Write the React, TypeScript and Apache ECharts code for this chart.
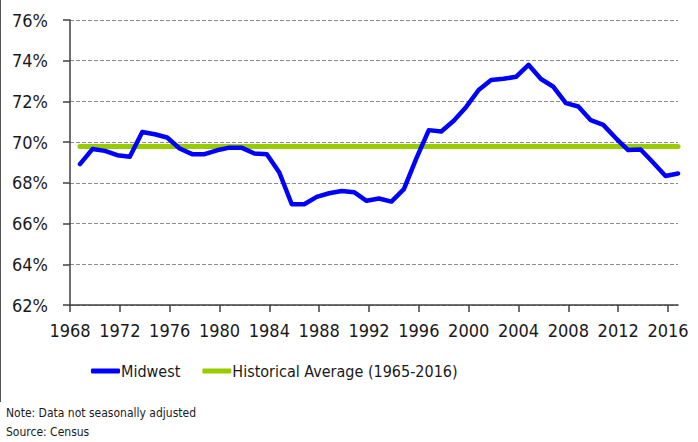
import React, { useEffect, useRef } from "react";
import * as echarts from "echarts";

const years: number[] = [
  1968, 1969, 1970, 1971, 1972, 1973, 1974, 1975, 1976, 1977, 1978, 1979,
  1980, 1981, 1982, 1983, 1984, 1985, 1986, 1987, 1988, 1989, 1990, 1991,
  1992, 1993, 1994, 1995, 1996, 1997, 1998, 1999, 2000, 2001, 2002, 2003,
  2004, 2005, 2006, 2007, 2008, 2009, 2010, 2011, 2012, 2013, 2014, 2015, 2016,
];

const midwest: number[] = [
  68.92, 69.66, 69.57, 69.36, 69.28, 70.5, 70.39, 70.23, 69.69, 69.41, 69.41, 69.6,
  69.73, 69.72, 69.44, 69.41, 68.51, 66.95, 66.95, 67.31, 67.49, 67.6, 67.54, 67.12,
  67.23, 67.08, 67.69, 69.2, 70.59, 70.52, 71.05, 71.73, 72.56, 73.05, 73.11, 73.21,
  73.8, 73.1, 72.72, 71.92, 71.75, 71.08, 70.85, 70.2, 69.61, 69.64, 69.0, 68.34, 68.46,
];

const historicalAverage = 69.78;

const xTickLabels: number[] = [1968, 1972, 1976, 1980, 1984, 1988, 1992, 1996, 2000, 2004, 2008, 2012, 2016];

const seriesNames = ["Midwest", "Historical Average (1965-2016)"];
const notes = ["Note: Data not seasonally adjusted", "Source: Census"];

// points are plotted late in each year (annual reading)
const POINT_OFFSET = 0.8;

const FONT = "'DejaVu Sans Condensed', 'Liberation Sans Narrow', sans-serif";

export default function App() {
  const ref = useRef<HTMLDivElement>(null);
  useEffect(() => {
    if (!ref.current) return;
    const chart = echarts.init(ref.current, null, { renderer: "svg" });
    const pts = years.map((y, i) => [y + POINT_OFFSET, midwest[i]]);
    const x0 = years[0] + POINT_OFFSET;
    const x1 = years[years.length - 1] + POINT_OFFSET;
    chart.setOption({
      animation: false,
      backgroundColor: "#ffffff",
      textStyle: { fontFamily: FONT },
      grid: { left: 70, right: 20, top: 20, bottom: 137, containLabel: false },
      xAxis: {
        type: "value",
        min: 1968,
        max: x1,
        axisLine: { show: true, onZero: false, lineStyle: { color: "#404040", width: 1.5 } },
        axisTick: { show: true, length: 7, customValues: xTickLabels, lineStyle: { color: "#404040", width: 1.5 } },
        axisLabel: {
          customValues: xTickLabels,
          margin: 16,
          color: "#1a1a1a",
          fontSize: 18,
          fontFamily: FONT,
          formatter: (v: number) => String(v),
        },
        splitLine: { show: false },
      },
      yAxis: {
        type: "value",
        min: 62,
        max: 76,
        interval: 2,
        axisLine: { show: true, lineStyle: { color: "#404040", width: 1.5 } },
        axisTick: { show: true, length: 7, lineStyle: { color: "#404040", width: 1.5 } },
        axisLabel: {
          margin: 22,
          color: "#1a1a1a",
          fontSize: 18,
          fontFamily: FONT,
          formatter: "{value}%",
        },
        splitLine: { show: true, lineStyle: { color: "#8a8a8a", type: [4, 2], width: 1 } },
      },
      legend: {
        left: 86,
        top: 358,
        itemWidth: 29,
        itemHeight: 5,
        itemGap: 22,
        icon: "roundRect",
        textStyle: { fontSize: 16, color: "#1a1a1a", fontFamily: FONT, padding: [0, 0, 0, -4] },
        data: seriesNames,
      },
      series: [
        {
          name: seriesNames[1],
          type: "line",
          symbol: "none",
          data: [[x0, historicalAverage], [x1, historicalAverage]],
          lineStyle: { color: "#99cc00", width: 5, cap: "round" },
          itemStyle: { color: "#99cc00" },
          z: 2,
        },
        {
          name: seriesNames[0],
          type: "line",
          symbol: "none",
          data: pts,
          lineStyle: { color: "#0000ff", width: 4.5, cap: "round", join: "round" },
          itemStyle: { color: "#0000ff" },
          z: 3,
        },
      ],
      graphic: [
        { type: "line", shape: { x1: 0.5, y1: 0, x2: 0.5, y2: 402 }, style: { stroke: "#555555", lineWidth: 1 } },
        { type: "text", left: 6, top: 407, style: { text: notes[0], fontSize: 12, fill: "#1a1a1a", fontFamily: FONT } },
        { type: "text", left: 6, top: 426, style: { text: notes[1], fontSize: 12, fill: "#1a1a1a", fontFamily: FONT } },
      ],
    });
    return () => chart.dispose();
  }, []);
  return <div ref={ref} style={{ width: 698, height: 442, position: "absolute", left: 0, top: 0 }} />;
}
